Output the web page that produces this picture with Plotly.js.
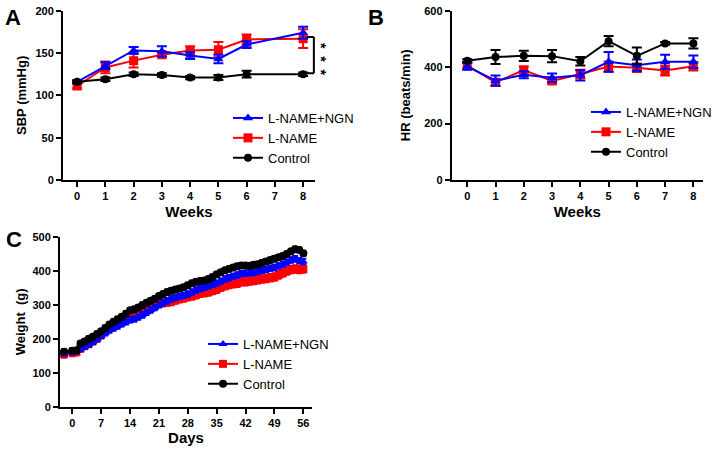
<!DOCTYPE html>
<html>
<head>
<meta charset="utf-8">
<script src="https://cdn.plot.ly/plotly-3.0.1.min.js"></script>
<style>html,body{margin:0;padding:0;background:#fff;}#chart{width:718px;height:450px;}</style>
</head>
<body>
<div id="chart"></div>
<script>
// ---------- Panel A: SBP ----------
const weeksA = [0, 1, 2, 3, 4, 5, 6, 8];
const sbpNGN = [116, 135, 153, 152, 147, 143, 160, 174];
const sbpNGNerr = [2, 4, 4, 6, 4, 5, 4, 7];
const sbpLN = [111, 133, 141, 148, 153, 154, 166, 167];
const sbpLNerr = [3, 7, 8, 3, 5, 9, 6, 11];
const sbpCtl = [116, 119, 125, 124, 121, 121, 125, 125];
const sbpCtlErr = [1, 2, 2, 2, 2, 3, 4, 2];

// ---------- Panel B: HR ----------
const weeksB = [0, 1, 2, 3, 4, 5, 6, 7, 8];
const hrNGN = [403, 352, 373, 362, 371, 419, 407, 419, 419];
const hrNGNerr = [12, 18, 12, 15, 18, 35, 20, 25, 22];
const hrLN = [405, 346, 390, 351, 376, 402, 398, 388, 403];
const hrLNerr = [10, 12, 12, 10, 15, 18, 15, 18, 15];
const hrCtl = [423, 436, 440, 439, 421, 492, 440, 484, 484];
const hrCtlErr = [5, 25, 18, 22, 15, 18, 30, 5, 18];

// ---------- Panel C: Weight ----------
const days = [-2, 0, 1, 2, 3, 4, 5, 6, 7, 8, 9, 10, 11, 12, 13, 14, 15, 16, 17, 18, 19, 20,
  21, 22, 23, 24, 25, 26, 27, 28, 29, 30, 31, 32, 33, 34, 35, 36, 37, 38, 39, 40,
  41, 42, 43, 44, 45, 46, 47, 48, 49, 50, 51, 52, 53, 54, 55, 56];
const wtCtl = [162, 165, 166, 186, 192, 200, 206, 214, 222, 232, 242, 250, 258, 265, 274, 284, 287, 292, 300, 306, 312, 318,
  326, 332, 338, 342, 345, 348, 352, 358, 364, 368, 370, 372, 376, 382, 390, 396, 402, 406, 410, 414,
  416, 416, 415, 418, 420, 424, 428, 432, 436, 440, 444, 450, 458, 464, 462, 452];
const wtNGN = [158, 162, 164, 172, 178, 185, 192, 200, 210, 218, 226, 232, 238, 244, 250, 256, 258, 264, 270, 278, 285, 292,
  300, 306, 312, 318, 322, 325, 328, 332, 338, 344, 348, 352, 356, 360, 364, 370, 376, 380, 384, 388,
  392, 393, 394, 396, 398, 402, 404, 408, 410, 415, 420, 426, 432, 436, 430, 428];
const wtLN = [155, 160, 162, 172, 180, 186, 194, 202, 212, 222, 232, 238, 246, 252, 258, 266, 270, 276, 282, 288, 292, 298,
  304, 306, 308, 310, 314, 318, 320, 324, 326, 330, 334, 336, 338, 342, 346, 352, 356, 360, 362, 364,
  368, 368, 370, 372, 374, 376, 378, 380, 382, 388, 394, 400, 404, 406, 404, 406];
const wtCtlErr = 7;
const wtNGNerr = 8;
const wtLNerr = 11;

const tickWeeks = [0, 1, 2, 3, 4, 5, 6, 7, 8];
const tickDays = [0, 7, 14, 21, 28, 35, 42, 49, 56];

const seriesNames = ['L-NAME+NGN', 'L-NAME', 'Control'];
const BLUE = '#0000ff', RED = '#ff0000', BLACK = '#000000';
const FONT = 'Arial, "Liberation Sans", sans-serif';

function tr(x, y, err, name, color, symbol, size, xa, ya, leg, rank, errw) {
  return {
    x: x, y: y, type: 'scatter', mode: 'lines+markers', name: name,
    xaxis: xa, yaxis: ya, legend: leg, legendrank: rank,
    line: {color: color, width: 2},
    marker: {color: color, symbol: symbol, size: size},
    error_y: Array.isArray(err)
      ? {type: 'data', array: err, visible: true, color: color, thickness: 2, width: errw}
      : {type: 'constant', value: err, visible: true, color: color, thickness: 2, width: errw}
  };
}

const data = [
  tr(weeksA, sbpLN, sbpLNerr, seriesNames[1], RED, 'square', 9, 'x', 'y', 'legend', 2, 5),
  tr(weeksA, sbpNGN, sbpNGNerr, seriesNames[0], BLUE, 'triangle-up', 9, 'x', 'y', 'legend', 1, 5),
  tr(weeksA, sbpCtl, sbpCtlErr, seriesNames[2], BLACK, 'circle', 8, 'x', 'y', 'legend', 3, 5),

  tr(weeksB, hrLN, hrLNerr, seriesNames[1], RED, 'square', 9, 'x2', 'y2', 'legend2', 2, 5),
  tr(weeksB, hrNGN, hrNGNerr, seriesNames[0], BLUE, 'triangle-up', 9, 'x2', 'y2', 'legend2', 1, 5),
  tr(weeksB, hrCtl, hrCtlErr, seriesNames[2], BLACK, 'circle', 8, 'x2', 'y2', 'legend2', 3, 5),

  tr(days, wtLN, wtLNerr, seriesNames[1], RED, 'square', 8, 'x3', 'y3', 'legend3', 2, 3),
  tr(days, wtNGN, wtNGNerr, seriesNames[0], BLUE, 'triangle-up', 8, 'x3', 'y3', 'legend3', 1, 3),
  tr(days, wtCtl, wtCtlErr, seriesNames[2], BLACK, 'circle', 8, 'x3', 'y3', 'legend3', 3, 3)
];

const tickFont = {family: FONT, size: 11, color: '#000', weight: 'bold'};

function xax(domain, range, ticks, anchor, title) {
  return {
    domain: domain, range: range, anchor: anchor,
    tickmode: 'array', tickvals: ticks, ticktext: ticks.map(String),
    showgrid: false, zeroline: false, showline: true, linecolor: '#000', linewidth: 2,
    ticks: 'outside', ticklen: 5, tickwidth: 2, tickcolor: '#000',
    tickfont: tickFont, fixedrange: true,
    title: {text: title, font: {family: FONT, size: 15, color: '#000', weight: 'bold'}, standoff: 5}
  };
}
function yax(domain, range, dtick, anchor, title, standoff) {
  return {
    domain: domain, range: range, anchor: anchor,
    tickmode: 'linear', tick0: 0, dtick: dtick,
    showgrid: false, zeroline: false, showline: true, linecolor: '#000', linewidth: 2,
    ticks: 'outside', ticklen: 5, tickwidth: 2, tickcolor: '#000',
    tickfont: tickFont, fixedrange: true,
    title: {text: title, font: {family: FONT, size: 13, color: '#000', weight: 'bold'}, standoff: standoff}
  };
}

const legFont = {family: FONT, size: 13, color: '#000'};
function leg(x, y) {
  return {x: x, y: y, xanchor: 'left', yanchor: 'top', font: legFont, bgcolor: 'rgba(0,0,0,0)',
    itemwidth: 30, tracegroupgap: 0, traceorder: 'normal'};
}

const layout = {
  width: 718, height: 450,
  margin: {l: 0, r: 0, t: 0, b: 0},
  paper_bgcolor: '#fff', plot_bgcolor: '#fff',
  font: {family: FONT, color: '#000'},
  showlegend: true,
  xaxis: xax([63/718, 315/718], [-0.5, 8.42], tickWeeks, 'y', 'Weeks'),
  yaxis: yax([1 - 180/450, 1 - 10.7/450], [0, 200], 50, 'x', 'SBP (mmHg)', 6),
  xaxis2: xax([451.7/718, 703/718], [-0.55, 8.34], tickWeeks, 'y2', 'Weeks'),
  yaxis2: yax([1 - 180/450, 1 - 10.7/450], [0, 600], 200, 'x2', 'HR (beats/min)', 11),
  xaxis3: xax([60/718, 312/718], [-2.98, 58.1], tickDays, 'y3', 'Days'),
  yaxis3: yax([1 - 406.7/450, 1 - 237/450], [0, 500], 100, 'x3', 'Weight&nbsp; (g)', 4),
  legend: leg(228/718, 1 - 103/450),
  legend2: leg(586/718, 1 - 97/450),
  legend3: leg(203/718, 1 - 329/450),
  shapes: [
    {type: 'line', xref: 'x', yref: 'y', x0: 8.38, x1: 8.38, y0: 126, y1: 169, line: {color: '#000', width: 2}},
    {type: 'line', xref: 'x', yref: 'y', x0: 8.12, x1: 8.38, y0: 169, y1: 169, line: {color: '#000', width: 2}},
    {type: 'line', xref: 'x', yref: 'y', x0: 8.12, x1: 8.38, y0: 126, y1: 126, line: {color: '#000', width: 2}}
  ],
  annotations: [
    {text: '*&nbsp;&nbsp;*&nbsp;&nbsp;*', xref: 'paper', yref: 'paper', x: 321/718, y: 1 - 59/450,
      xanchor: 'center', yanchor: 'middle', showarrow: false, textangle: 90,
      font: {family: FONT, size: 14, color: '#000', weight: 'bold'}},
    {text: 'A', xref: 'paper', yref: 'paper', x: 3/718, y: 1 - 3/450, xanchor: 'left', yanchor: 'top', showarrow: false,
      font: {family: FONT, size: 22, color: '#000', weight: 'bold'}},
    {text: 'B', xref: 'paper', yref: 'paper', x: 366/718, y: 1 - 3/450, xanchor: 'left', yanchor: 'top', showarrow: false,
      font: {family: FONT, size: 22, color: '#000', weight: 'bold'}},
    {text: 'C', xref: 'paper', yref: 'paper', x: 4/718, y: 1 - 225/450, xanchor: 'left', yanchor: 'top', showarrow: false,
      font: {family: FONT, size: 22, color: '#000', weight: 'bold'}}
  ]
};

Plotly.newPlot('chart', data, layout, {staticPlot: true, displayModeBar: false});
</script>
</body>
</html>
